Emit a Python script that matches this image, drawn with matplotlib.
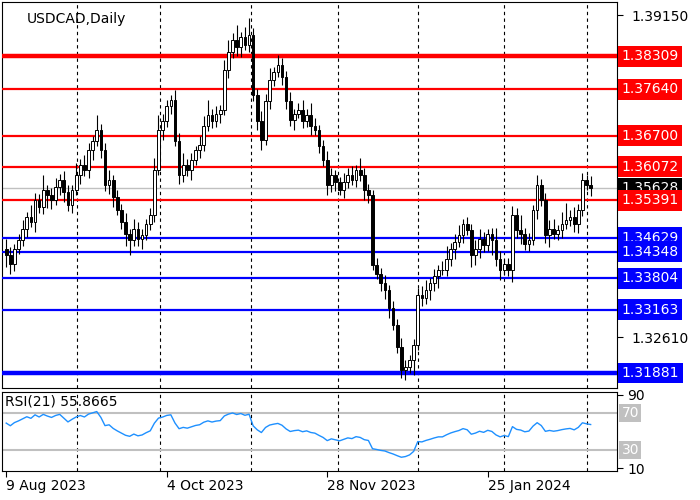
import numpy as np
import matplotlib
matplotlib.use("Agg")
import matplotlib.pyplot as plt

closes = [1.3428,1.3410,1.3440,1.3458,1.3480,1.3505,1.3495,1.3539,1.3525,1.3560,1.3549,
1.3540,1.3565,1.3580,1.3555,1.3529,1.3560,1.3590,1.3610,1.3600,1.3641,1.3660,1.3681,
1.3640,1.3570,1.3580,1.3545,1.3519,1.3495,1.3470,1.3458,1.3480,1.3460,1.3468,1.3490,1.3509,
1.3600,1.3681,1.3700,1.3730,1.3742,1.3660,1.3590,1.3610,1.3600,1.3620,1.3640,1.3651,
1.3690,1.3712,1.3700,1.3715,1.3722,1.3803,1.3840,1.3864,1.3850,1.3870,1.3854,1.3874,
1.3753,1.3700,1.3661,1.3740,1.3783,1.3800,1.3813,1.3790,1.3740,1.3702,1.3715,1.3722,
1.3700,1.3712,1.3690,1.3681,1.3650,1.3620,1.3570,1.3590,1.3575,1.3559,1.3575,1.3590,
1.3580,1.3600,1.3590,1.3560,1.3549,1.3407,1.3390,1.3370,1.3357,1.3320,1.3286,1.3240,
1.3194,1.3200,1.3214,1.3245,1.3346,1.3340,1.3357,1.3370,1.3385,1.3397,1.3397,1.3420,
1.3440,1.3455,1.3468,1.3490,1.3478,1.3428,1.3440,1.3460,1.3448,1.3470,1.3458,1.3420,
1.3397,1.3410,1.3397,1.3509,1.3478,1.3470,1.3450,1.3458,1.3520,1.3570,1.3539,1.3468,
1.3480,1.3470,1.3478,1.3490,1.3499,1.3505,1.3490,1.3519,1.3580,1.3570,1.3563]
first_open = 1.3440
upper_wick = [20,15,10,12,18,10,25,15,12,30,10,15,20,12,18,15,10,25,12,20,15,10,30,
12,15,20,10,15,12,18,10,20,15,12,10,15,25,30,15,12,10,20,15,25,12,15,10,18,20,30,
12,15,10,20,25,15,30,10,20,35,15,12,20,15,25,10,20,15,12,18,10,15,20,12,25,15,10,
12,18,15,10,12,20,15,18,10,25,15,12,10,15,12,18,10,15,12,20,15,10,12,15,18,20,12,
15,10,18,25,12,15,20,10,15,12,18,20,15,10,12,25,15,10,12,18,15,30,12,15,10,20,12,
15,18,20,10,25,35,15,20,12,15,10,18,20,12,15,10,14,16,12,10,15,18,12,10,20,15,12,10]
lower_wick = [25,20,15,10,12,15,10,20,12,15,25,18,10,15,20,12,15,10,18,12,15,20,10,
15,12,18,20,10,15,25,30,12,15,20,10,12,15,10,20,12,15,10,18,15,12,20,10,15,12,10,
15,12,20,10,15,12,18,20,10,15,12,18,20,10,15,12,10,18,15,12,20,10,15,12,18,10,15,
12,20,15,18,10,15,12,10,15,12,20,15,10,12,15,18,20,10,12,15,20,12,30,10,15,12,20,
15,25,10,12,15,20,12,15,10,25,20,18,15,12,30,15,20,10,12,25,15,20,12,15,10,20,12,
15,25,10,12,15,10,12,15,18,12,10,15,20,12,18,10,15,12,14,16,10,12,15,18,12,10,15,12]
rsi_seed_gain = 0.0011
rsi_seed_loss = 0.0007

red_levels = [1.38309, 1.37640, 1.36700, 1.36072, 1.35391]
blue_levels = [1.34629, 1.34348, 1.33804, 1.33163, 1.31881]
current = 1.35628
grid_bars = [17.3, 37.3, 59.5, 80.7, 100, 121, 141]
date_bars = [0, 39, 78, 117]
date_labels = ["9 Aug 2023", "4 Oct 2023", "28 Nov 2023", "25 Jan 2024"]

n = len(closes)
opens = [first_open] + closes[:-1]
highs = [max(o, c) + w/10000 for o, c, w in zip(opens, closes, upper_wick)]
lows = [min(o, c) - w/10000 for o, c, w in zip(opens, closes, lower_wick)]

# RSI(21) Wilder smoothing
per = 21
d = np.diff(np.array([first_open] + closes))
g = np.where(d > 0, d, 0.0); l = np.where(d < 0, -d, 0.0)
ag, al = rsi_seed_gain, rsi_seed_loss
rsi = []
for i in range(n):
    ag = (ag*(per-1) + g[i])/per; al = (al*(per-1) + l[i])/per
    rsi.append(100 - 100/(1+ag/al))

fig = plt.figure(figsize=(7, 5), dpi=100)
ax = fig.add_axes([0.003, 0.224, 0.879, 0.772])
ax2 = fig.add_axes([0.003, 0.058, 0.879, 0.158])
xmax = 148.5
for a in (ax, ax2):
    a.set_xlim(-1, xmax)
    for gb in grid_bars:
        a.axvline(gb, color='black', ls=(0, (3, 3)), lw=0.8, zorder=0)
    for s in a.spines.values():
        s.set_linewidth(0.8)

ax.set_ylim(1.31577, 1.39414)
for lv in red_levels:
    ax.axhline(lv, color='#ff0000', lw=3.2 if lv == red_levels[0] else 1.6, zorder=3)
for lv in blue_levels:
    ax.axhline(lv, color='#0000ff', lw=3.2 if lv == blue_levels[-1] else 1.6, zorder=3)
ax.axhline(current, color='#c0c0c0', lw=1, zorder=1)

for i in range(n):
    o, c, h, lo = opens[i], closes[i], highs[i], lows[i]
    ax.vlines(i, lo, h, color='black', lw=0.8, zorder=4)
    bull = c >= o
    ax.bar(i, max(abs(c-o), 0.00005), bottom=min(o, c), width=0.65,
           color='white' if bull else 'black', edgecolor='black', lw=0.7, zorder=5)

ax.set_xticks([])
ax.yaxis.tick_right()
ax.set_yticks([1.39150, 1.32610])
ax.set_yticklabels(["1.39150", "1.32610"], fontsize=10)
ax.tick_params(axis='y', length=4, pad=6)
ax.text(0.04, 0.975, "USDCAD,Daily", transform=ax.transAxes, fontsize=10, va='top')

def box(axis, y, txt, fc, z):
    axis.annotate(txt, xy=(1.0, y), xycoords=('axes fraction', 'data'),
                  xytext=(3, 0), textcoords='offset points', va='center', ha='left',
                  fontsize=10, color='white', zorder=z,
                  bbox=dict(boxstyle='square,pad=0.25', fc=fc, ec='none'),
                  annotation_clip=False)
box(ax, current, f"{current:.5f}", 'black', 10)
for lv in red_levels:
    box(ax, lv, f"{lv:.5f}", '#ff0000', 11)
for lv in blue_levels:
    box(ax, lv, f"{lv:.5f}", '#0000ff', 11)

ax2.set_ylim(7, 93)
ax2.axhline(70, color='#c0c0c0', lw=1.5)
ax2.axhline(30, color='#c0c0c0', lw=1.5)
ax2.plot(range(n), rsi, color='#1e90ff', lw=1)
ax2.yaxis.tick_right()
ax2.set_yticks([90, 10])
ax2.set_yticklabels(["90", "10"], fontsize=10)
ax2.tick_params(axis='y', length=4, pad=3)
for v in (70, 30):
    ax2.annotate(str(v), xy=(1.0, v), xycoords=('axes fraction', 'data'), xytext=(3, 0),
                 textcoords='offset points', va='center', fontsize=10, color='white',
                 bbox=dict(boxstyle='square,pad=0.15', fc='#c0c0c0', ec='none'),
                 annotation_clip=False)
ax2.text(0.005, 0.97, "RSI(21) 55.8665", transform=ax2.transAxes, fontsize=10, va='top')
ax2.set_xticks(date_bars)
ax2.set_xticklabels(date_labels, fontsize=10, ha='left')
ax2.tick_params(axis='x', length=4, pad=2)

fig.savefig("out.png", dpi=100)
